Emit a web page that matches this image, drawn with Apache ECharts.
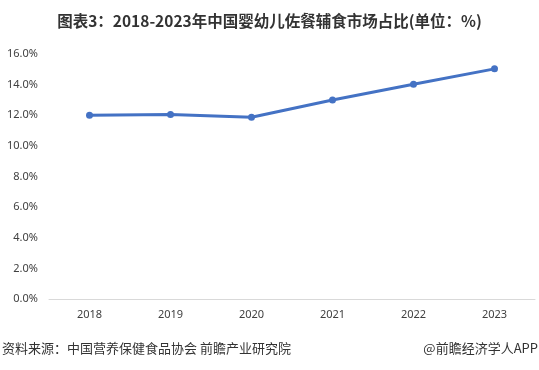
<!DOCTYPE html>
<html><head><meta charset="utf-8">
<script src="https://cdn.jsdelivr.net/npm/echarts@6/dist/echarts.min.js"></script>
<style>html,body{margin:0;padding:0;background:#fff}#c{width:539px;height:370px}</style>
</head><body><div id="c"></div>
<script>
const titleText = '图表3：2018-2023年中国婴幼儿佐餐辅食市场占比(单位：%)';
const categories = ['2018','2019','2020','2021','2022','2023'];
const shareValues = [12.0, 12.05, 11.87, 13.0, 14.02, 15.03];
const sourceText = '资料来源：中国营养保健食品协会 前瞻产业研究院';
const brandText = '@前瞻经济学人APP';

const chart = echarts.init(document.getElementById('c'));
chart.setOption({
  animation: false,
  backgroundColor: '#fff',
  title: {
    text: titleText, left: 'center', top: 8,
    textStyle: {fontSize: 15.5, fontWeight: 'bold', color: '#333', fontFamily: 'Noto Sans CJK SC'}
  },
  graphic: [
    {type: 'text', left: 2, top: 342, style: {text: sourceText, fontSize: 13, fill: '#333', fontFamily: 'Noto Sans CJK SC'}},
    {type: 'text', right: 1, top: 342, style: {text: brandText, fontSize: 13, fill: '#333', fontFamily: 'Noto Sans CJK SC'}}
  ],
  grid: {left: 49, right: 4, top: 54, bottom: 71},
  xAxis: {
    type: 'category', data: categories, boundaryGap: true,
    axisLine: {lineStyle: {color: '#d9d9d9'}}, axisTick: {show: false},
    axisLabel: {color: '#404040', fontSize: 11, margin: 10, fontFamily: 'Noto Sans'}
  },
  yAxis: {
    type: 'value', min: 0, max: 16, interval: 2,
    splitLine: {show: false}, axisLine: {show: false}, axisTick: {show: false},
    axisLabel: {formatter: v => v.toFixed(1) + '%', color: '#404040', fontSize: 11, margin: 11, fontFamily: 'Noto Sans'}
  },
  series: [{
    type: 'line', data: shareValues, symbol: 'circle', symbolSize: 7,
    lineStyle: {color: '#4472C4', width: 3}, itemStyle: {color: '#4472C4'}
  }]
});
</script></body></html>
